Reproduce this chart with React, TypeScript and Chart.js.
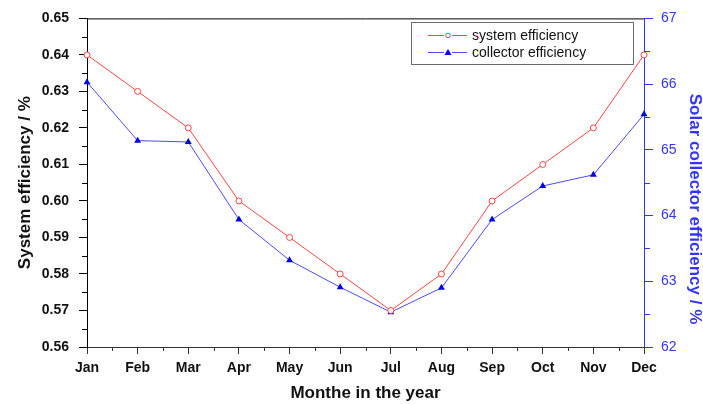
import React, { useEffect, useRef } from "react";
import { Chart, registerables } from "chart.js";

Chart.register(...registerables);

const months = ["Jan", "Feb", "Mar", "Apr", "May", "Jun", "Jul", "Aug", "Sep", "Oct", "Nov", "Dec"];
const systemEfficiency = [0.64, 0.63, 0.62, 0.6, 0.59, 0.58, 0.57, 0.58, 0.6, 0.61, 0.62, 0.64];
const collectorEfficiency = [66.03, 65.14, 65.12, 63.94, 63.32, 62.91, 62.53, 62.9, 63.94, 64.45, 64.62, 65.54];
const seriesNames = ["system efficiency", "collector efficiency"];
const xTitle = "Monthe in the year";
const yTitle = "System efficiency / %";
const y1Title = "Solar collector efficiency / %";

const FONT = "'Liberation Sans', Arial, sans-serif";
const RED = "#ff4444";
const BLUE_LINE = "#4a4aff";
const BLUE_MARK = "#0000ee";
const AXIS_BLUE = "#3434ff";

const decorPlugin = {
  id: "decor",
  afterDraw(chart: any) {
    const ctx = chart.ctx;
    const { left, right, top, bottom } = chart.chartArea;
    const ys = chart.scales.y;
    const y1 = chart.scales.y1;
    const xs = chart.scales.x;
    ctx.save();
    // top frame line
    ctx.strokeStyle = "#000";
    ctx.lineWidth = 1;
    ctx.beginPath();
    ctx.moveTo(left, top + 0.5);
    ctx.lineTo(right, top + 0.5);
    ctx.stroke();
    // minor ticks left
    ctx.beginPath();
    for (let i = 0; i < 9; i++) {
      const v = ys.min + 0.005 + i * 0.01;
      const p = Math.round(ys.getPixelForValue(v)) + 0.5;
      ctx.moveTo(left - 5, p);
      ctx.lineTo(left, p);
    }
    ctx.stroke();
    // minor ticks x
    ctx.strokeStyle = "#333";
    ctx.beginPath();
    for (let i = 0; i < months.length - 1; i++) {
      const p = Math.round(xs.getPixelForValue(i + 0.5)) + 0.5;
      ctx.moveTo(p, bottom);
      ctx.lineTo(p, bottom + 4);
    }
    ctx.stroke();
    // minor ticks right
    ctx.strokeStyle = AXIS_BLUE;
    ctx.beginPath();
    for (let i = 0; i < 5; i++) {
      const v = y1.min + 0.5 + i;
      const p = Math.round(y1.getPixelForValue(v)) + 0.5;
      ctx.moveTo(right, p);
      ctx.lineTo(right + 6, p);
    }
    ctx.stroke();

    // right title
    ctx.save();
    ctx.translate(695, 209);
    ctx.rotate(Math.PI / 2);
    ctx.fillStyle = AXIS_BLUE;
    ctx.font = `bold 17px ${FONT}`;
    ctx.textAlign = "center";
    ctx.textBaseline = "middle";
    ctx.fillText(y1Title, 0, 0);
    ctx.restore();

    // legend
    const bx = 411, by = 22, bw = 222, bh = 42;
    ctx.fillStyle = "#fff";
    ctx.fillRect(bx, by, bw, bh);
    ctx.strokeStyle = "#6a6a6a";
    ctx.lineWidth = 1;
    ctx.strokeRect(bx + 0.5, by + 0.5, bw, bh);
    const rows = [35, 52];
    rows.forEach((ry, i) => {
      const col = i === 0 ? RED : BLUE_LINE;
      ctx.strokeStyle = col;
      ctx.lineWidth = 1;
      ctx.beginPath();
      ctx.moveTo(428, ry + 0.5);
      ctx.lineTo(444, ry + 0.5);
      ctx.moveTo(452, ry + 0.5);
      ctx.lineTo(467, ry + 0.5);
      ctx.stroke();
      if (i === 0) {
        ctx.strokeStyle = RED;
        ctx.fillStyle = "#fff";
        ctx.beginPath();
        ctx.arc(448, ry + 0.5, 2.2, 0, Math.PI * 2);
        ctx.fill();
        ctx.stroke();
      } else {
        ctx.fillStyle = BLUE_MARK;
        ctx.beginPath();
        ctx.moveTo(448, ry - 3);
        ctx.lineTo(451.5, ry + 3);
        ctx.lineTo(444.5, ry + 3);
        ctx.closePath();
        ctx.fill();
      }
      ctx.fillStyle = "#111";
      ctx.font = `14px ${FONT}`;
      ctx.textAlign = "left";
      ctx.textBaseline = "middle";
      ctx.fillText(seriesNames[i], 472, ry + 1);
    });
    ctx.restore();
  },
};

export default function App() {
  const ref = useRef<HTMLCanvasElement | null>(null);
  useEffect(() => {
    if (!ref.current) return;
    const chart = new Chart(ref.current, {
      type: "line",
      data: {
        labels: months,
        datasets: [
          {
            label: seriesNames[0],
            data: systemEfficiency,
            yAxisID: "y",
            borderColor: RED,
            borderWidth: 1,
            pointStyle: "circle",
            pointRadius: 3,
            pointBorderWidth: 1,
            pointBorderColor: RED,
            pointBackgroundColor: "#fff",
            tension: 0,
          },
          {
            label: seriesNames[1],
            data: collectorEfficiency,
            yAxisID: "y1",
            borderColor: BLUE_LINE,
            borderWidth: 1,
            pointStyle: "triangle",
            pointRadius: 4,
            pointBorderWidth: 0,
            pointBorderColor: BLUE_MARK,
            pointBackgroundColor: BLUE_MARK,
            tension: 0,
          },
        ],
      },
      options: {
        responsive: false,
        animation: false,
        layout: { padding: { top: 17, left: 0, right: 0, bottom: 0 } },
        plugins: { legend: { display: false }, tooltip: { enabled: false } },
        scales: {
          x: {
            type: "category",
            offset: false,
            afterFit: (s: any) => { s.height = 58; },
            grid: {
              display: true,
              drawOnChartArea: false,
              drawTicks: true,
              tickLength: 7,
              tickColor: "#333",
            },
            border: { display: true, color: "#333", width: 1 },
            ticks: {
              color: "#111",
              font: { family: FONT, size: 14, weight: "bold" },
              padding: 6,
              maxRotation: 0,
              autoSkip: false,
            },
            title: {
              display: true,
              text: xTitle,
              color: "#111",
              font: { family: FONT, size: 17, weight: "bold" },
              padding: { top: 0, bottom: 1 },
            },
          },
          y: {
            type: "linear",
            position: "left",
            min: 0.56,
            max: 0.65,
            afterFit: (s: any) => { s.width = 87; },
            grid: {
              display: true,
              drawOnChartArea: false,
              drawTicks: true,
              tickLength: 8,
              tickColor: "#000",
            },
            border: { display: true, color: "#000", width: 1 },
            ticks: {
              stepSize: 0.01,
              color: "#111",
              padding: 10,
              font: { family: FONT, size: 14, weight: "bold" },
              callback: (v: any) => Number(v).toFixed(2),
            },
            title: {
              display: true,
              text: yTitle,
              color: "#111",
              font: { family: FONT, size: 17, weight: "bold" },
              padding: { top: 15, bottom: 0 },
            },
          },
          y1: {
            type: "linear",
            position: "right",
            min: 62,
            max: 67,
            afterFit: (s: any) => { s.width = 59; },
            grid: {
              display: true,
              drawOnChartArea: false,
              drawTicks: true,
              tickLength: 9,
              tickColor: AXIS_BLUE,
            },
            border: { display: true, color: AXIS_BLUE, width: 1 },
            ticks: {
              stepSize: 1,
              color: AXIS_BLUE,
              padding: 8,
              font: { family: FONT, size: 14 },
              callback: (v: any) => Number(v).toFixed(0),
            },
            title: { display: false },
          },
        },
      },
      plugins: [decorPlugin],
    } as any);
    return () => chart.destroy();
  }, []);
  return (
    <div style={{ position: "absolute", left: 0, top: 0, width: 703, height: 405, background: "#fff" }}>
      <canvas ref={ref} width={703} height={405} style={{ display: "block" }} />
    </div>
  );
}
